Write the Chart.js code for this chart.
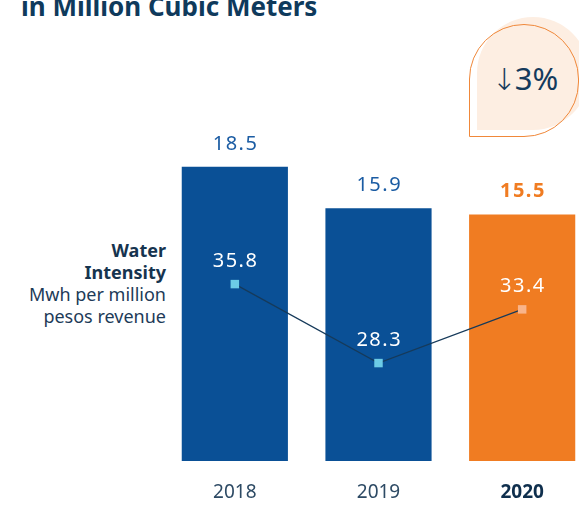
<!DOCTYPE html>
<html>
<head>
<meta charset="utf-8">
<script src="https://cdn.jsdelivr.net/npm/chart.js@4"></script>
<style>
  html, body { margin: 0; padding: 0; width: 579px; height: 505px; overflow: hidden; background: #fff; }
  body { position: relative; font-family: "Noto Sans", sans-serif; }
  #wrap { position: absolute; left: 0; top: 0; width: 600px; height: 505px; }
  .title { position: absolute; left: 21px; top: -12px; font-size: 26px; font-weight: bold; color: #0f3a5c; white-space: nowrap; }
  .side { position: absolute; right: 413px; top: 239px; text-align: right; font-size: 18px; line-height: 22px; color: #1d3b58; }
  .side b { color: #16344f; }
  .bubble-fill { position: absolute; left: 477px; top: 17px; width: 112px; height: 113px; background: #fdeee2; border-radius: 56px 56px 56px 0; }
  .bubble-line { position: absolute; left: 469px; top: 24px; width: 110px; height: 113px; box-sizing: border-box; border: 1.5px solid #f0883a; border-radius: 56px 56px 56px 0; }
  .bubble-text { position: absolute; left: 469px; top: 24px; width: 112px; height: 113px; line-height: 113px; text-align: center; font-size: 31px; color: #143a5c; margin-top: -2px; }
  .bubble-text .arr { font-family: "DejaVu Sans", sans-serif; font-weight: 200; font-size: 30px; margin-right: -2px; }
</style>
</head>
<body>
<div class="title">in Million Cubic Meters</div>
<div class="bubble-fill"></div>
<div class="bubble-line"></div>
<div class="bubble-text"><span class="arr">↓</span>3%</div>
<div class="side"><b>Water<br>Intensity</b><br>Mwh per million<br>pesos revenue</div>
<div id="wrap"><canvas id="chart" width="600" height="505"></canvas></div>
<script>
// chart data
var years = ["2018", "2019", "2020"];
var waterUse = [18.5, 15.9, 15.5];
var waterIntensity = [35.8, 28.3, 33.4];

var barColors = ["#0a5096", "#0a5096", "#f07c22"];
var pointColors = ["#6ccbe6", "#6ccbe6", "#f9b48a"];
var labelColors = ["#1b5ca3", "#1b5ca3", "#f07c22"];

// draw value labels over bars and points
var valueLabels = {
  id: "valueLabels",
  afterDatasetsDraw: function (chart) {
    var ctx = chart.ctx;
    ctx.save();
    ctx.textAlign = "center";
    ctx.textBaseline = "middle";
    ctx.letterSpacing = "1.5px";
    chart.data.datasets.forEach(function (ds, i) {
      var meta = chart.getDatasetMeta(i);
      meta.data.forEach(function (el, j) {
        var txt = ds.data[j].toFixed(1);
        if (ds.type === "bar") {
          ctx.font = (j === 2 ? "bold " : "") + "20px 'Noto Sans'";
          ctx.fillStyle = labelColors[j];
        } else {
          ctx.font = "20px 'Noto Sans'";
          ctx.fillStyle = "#ffffff";
        }
        ctx.fillText(txt, el.x + 0.75, el.y - 23);
      });
    });
    ctx.restore();
  }
};

new Chart(document.getElementById("chart"), {
  data: {
    labels: years,
    datasets: [
      {
        type: "line",
        data: waterIntensity,
        yAxisID: "y2",
        order: 0,
        borderColor: "#163a5a",
        borderWidth: 1.2,
        pointStyle: "rect",
        pointRadius: 6,
        pointBorderWidth: 0,
        pointBackgroundColor: pointColors
      },
      {
        type: "bar",
        data: waterUse,
        yAxisID: "y",
        order: 1,
        backgroundColor: barColors,
        categoryPercentage: 1,
        barPercentage: 0.739
      }
    ]
  },
  options: {
    responsive: false,
    animation: false,
    layout: { padding: { left: 163, right: 6, top: 143, bottom: 0 } },
    plugins: { legend: { display: false }, tooltip: { enabled: false } },
    scales: {
      x: {
        grid: { display: false, drawTicks: false },
        border: { display: false },
        afterFit: function (scale) { scale.height = 44; },
        ticks: {
          padding: 20,
          color: function (c) { return c.index === 2 ? "#0f2f4d" : "#2d4a64"; },
          font: function (c) {
            return { family: "'Noto Sans'", size: 19, weight: c.index === 2 ? "bold" : "normal" };
          }
        }
      },
      y: { display: false, min: 0, max: 20 },
      y2: { display: false, min: 19, max: 49.2 }
    }
  },
  plugins: [valueLabels]
});
</script>
</body>
</html>
